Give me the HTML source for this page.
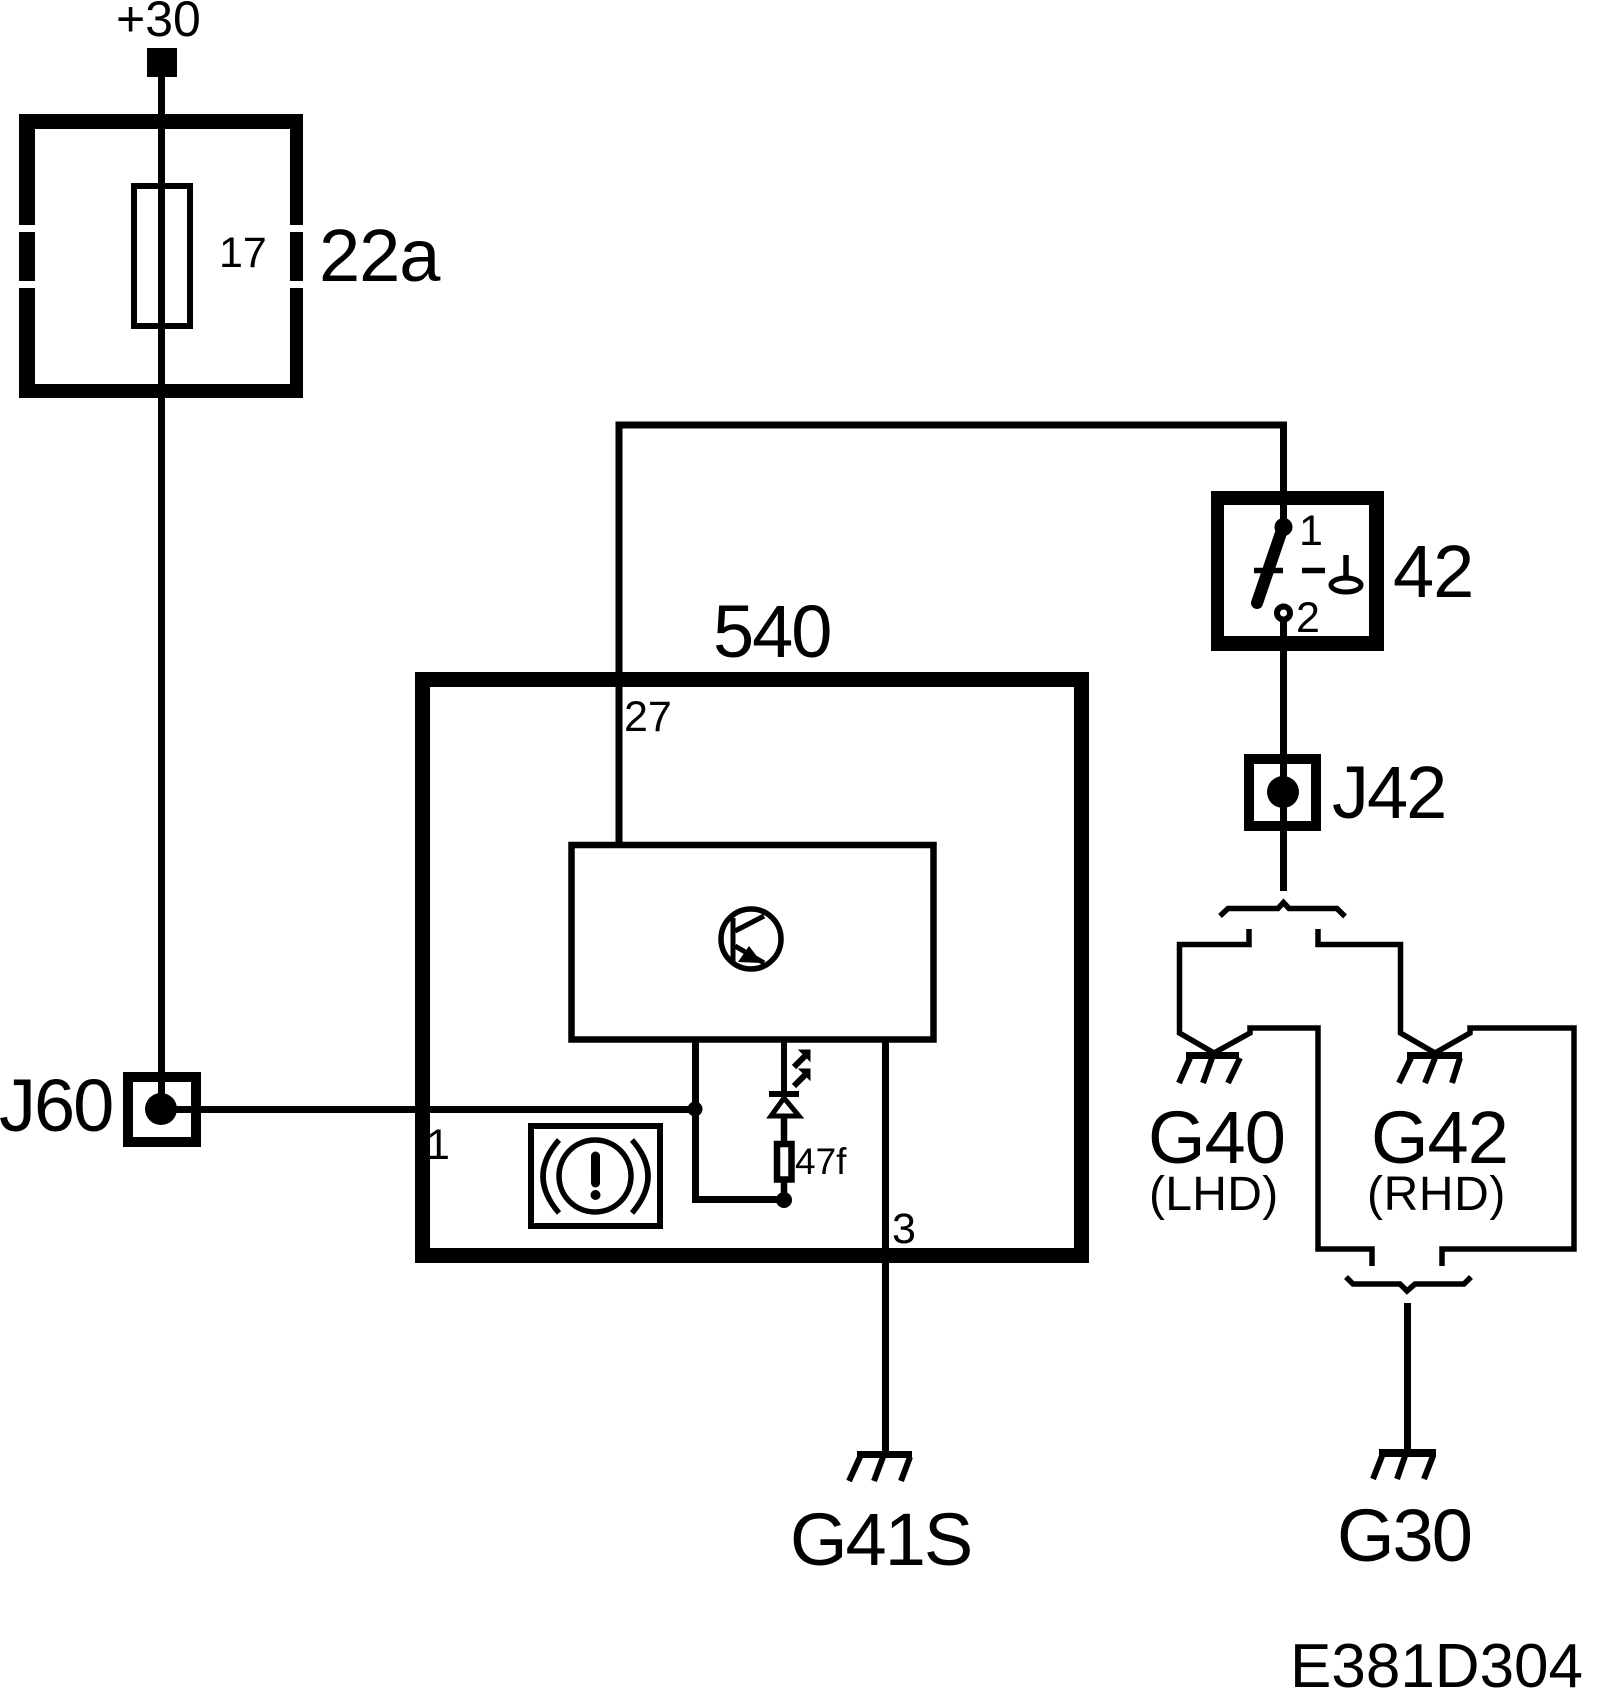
<!DOCTYPE html>
<html>
<head>
<meta charset="utf-8">
<style>
html,body{margin:0;padding:0;background:#fff;}
svg{display:block;}
text{font-family:"Liberation Sans",sans-serif;fill:#000;}
.l{fill:none;stroke:#000;stroke-width:7;}
.m{fill:none;stroke:#000;stroke-width:5.5;stroke-linejoin:miter;}
.t{font-size:43px;}
.b{font-size:74px;letter-spacing:-2px;}
</style>
</head>
<body>
<svg width="1600" height="1702" viewBox="0 0 1600 1702" xmlns="http://www.w3.org/2000/svg">
<rect width="1600" height="1702" fill="#fff"/>

<!-- +30 and fuse box -->
<text x="116" y="36" font-size="50">+30</text>
<rect x="147" y="48" width="30" height="29" fill="#000"/>
<path d="M19 114H303V398H19Z M35 129V384H290V129Z" fill="#000" fill-rule="evenodd"/>
<rect x="17" y="225" width="20" height="7" fill="#fff"/>
<rect x="17" y="281" width="20" height="7" fill="#fff"/>
<rect x="288" y="225" width="17" height="7" fill="#fff"/>
<rect x="288" y="281" width="17" height="7" fill="#fff"/>
<rect x="134" y="186" width="56" height="140" fill="none" stroke="#000" stroke-width="6"/>
<line class="l" x1="161.5" y1="70" x2="161.5" y2="1109"/>
<text class="t" x="219" y="267">17</text>
<text class="b" x="319" y="281" style="letter-spacing:-1px">22a</text>

<!-- J60 -->
<rect x="128" y="1077" width="68" height="65" fill="none" stroke="#000" stroke-width="10"/>
<circle cx="161" cy="1109" r="16" fill="#000"/>
<text class="b" x="-1" y="1131">J60</text>
<line class="l" x1="161" y1="1109.5" x2="695" y2="1109.5"/>

<!-- 540 box -->
<rect x="422.5" y="679.5" width="659" height="576" fill="none" stroke="#000" stroke-width="15"/>
<text class="b" x="713" y="657">540</text>
<text class="t" x="426" y="1159">1</text>
<text class="t" x="624" y="731">27</text>
<text class="t" x="892" y="1243">3</text>

<!-- top wire -->
<path class="l" d="M619 845V425H1283.5V527"/>

<!-- inner rect -->
<rect x="571.5" y="845" width="362" height="194.5" fill="none" stroke="#000" stroke-width="6.5"/>

<!-- transistor -->
<circle cx="751" cy="939" r="30" fill="none" stroke="#000" stroke-width="5.5"/>
<line x1="733" y1="918" x2="733" y2="962" stroke="#000" stroke-width="5"/>
<line x1="735" y1="931" x2="764" y2="916" stroke="#000" stroke-width="5"/>
<line x1="735" y1="946" x2="764" y2="963" stroke="#000" stroke-width="5"/>
<path d="M749 946L738 962L762 963Z" fill="#000"/>

<!-- internal wiring -->
<path class="l" d="M695.5 1040V1199.5H784"/>
<circle cx="695" cy="1109" r="7.5" fill="#000"/>
<circle cx="784" cy="1200" r="8" fill="#000"/>
<line x1="784" y1="1040" x2="784" y2="1093" stroke="#000" stroke-width="6"/>
<line x1="769" y1="1094" x2="799" y2="1094" stroke="#000" stroke-width="6"/>
<path d="M784 1098L771 1116H799Z" fill="none" stroke="#000" stroke-width="5"/>
<line x1="784" y1="1116" x2="784" y2="1142" stroke="#000" stroke-width="6.5"/>
<rect x="777" y="1144" width="14.5" height="35.5" fill="none" stroke="#000" stroke-width="6.5"/>
<line x1="784" y1="1181" x2="784" y2="1200" stroke="#000" stroke-width="6.5"/>
<path d="M794 1067L806 1055" stroke="#000" stroke-width="6" fill="none"/>
<path d="M799 1050H810V1061Z" fill="#000" stroke="#000" stroke-width="1"/>
<path d="M794 1086L806 1074" stroke="#000" stroke-width="6" fill="none"/>
<path d="M799 1069H810V1080Z" fill="#000" stroke="#000" stroke-width="1"/>
<text x="795" y="1174" font-size="37">47f</text>

<!-- brake warning icon -->
<rect x="531" y="1126" width="129" height="100" fill="none" stroke="#000" stroke-width="6"/>
<circle cx="595" cy="1176" r="36" fill="none" stroke="#000" stroke-width="5.5"/>
<path d="M559 1140Q527 1176 559 1213" fill="none" stroke="#000" stroke-width="5.5"/>
<path d="M632 1140Q664 1176 632 1213" fill="none" stroke="#000" stroke-width="5.5"/>
<line x1="595.5" y1="1156" x2="595.5" y2="1183" stroke="#000" stroke-width="9" stroke-linecap="round"/>
<circle cx="595.5" cy="1195" r="5" fill="#000"/>

<!-- ground G41S -->
<line class="l" x1="885.5" y1="1040" x2="885.5" y2="1452"/>
<rect x="857" y="1451" width="55" height="7" fill="#000"/>
<path d="M860 1457L849 1481M883 1457L874 1481M910 1457L901 1481" stroke="#000" stroke-width="6" fill="none"/>
<text class="b" x="790" y="1565">G41S</text>

<!-- switch 42 -->
<path d="M1211 491H1384V651H1211Z M1224 505V636H1369V505Z" fill="#000" fill-rule="evenodd"/>
<circle cx="1283.5" cy="527" r="9" fill="#000"/>
<line x1="1283" y1="527" x2="1257" y2="603" stroke="#000" stroke-width="12" stroke-linecap="round"/>
<line x1="1254" y1="570.5" x2="1283" y2="570.5" stroke="#000" stroke-width="5.5"/>
<line x1="1302" y1="570.5" x2="1325" y2="570.5" stroke="#000" stroke-width="5.5"/>
<line x1="1346" y1="555" x2="1346" y2="578" stroke="#000" stroke-width="5.5"/>
<ellipse cx="1346" cy="585" rx="15" ry="7" fill="none" stroke="#000" stroke-width="5"/>
<circle cx="1283.5" cy="613" r="6.500" fill="#fff" stroke="#000" stroke-width="6"/>
<text class="t" x="1299" y="545">1</text>
<text class="t" x="1296" y="632">2</text>
<text class="b" x="1393" y="597" style="letter-spacing:-1px">42</text>

<!-- J42 -->
<line class="l" x1="1283.5" y1="620" x2="1283.5" y2="891"/>
<rect x="1249" y="759" width="67" height="67" fill="none" stroke="#000" stroke-width="10"/>
<circle cx="1283" cy="792" r="16" fill="#000"/>
<text class="b" x="1332" y="818">J42</text>

<!-- top brace -->
<path class="m" d="M1220 916L1228 908.500H1278L1283.500 902.500L1289 908.500H1337L1345 916.500"/>

<!-- branch wires -->
<path class="m" d="M1249 929V944.500H1179.500V1033L1214 1053L1250 1033V1028H1318V1249H1372V1266"/>
<path class="m" d="M1318 929V944.500H1400.500V1033L1435 1053L1470 1033V1028H1574V1249H1442V1266"/>

<!-- G40 ground -->
<rect x="1186" y="1052" width="53" height="7" fill="#000"/>
<path d="M1190 1058L1179 1083M1212 1058L1203 1083M1240 1058L1228 1083" stroke="#000" stroke-width="6" fill="none"/>
<text class="b" x="1148" y="1163" style="letter-spacing:-1px">G40</text>
<text x="1149" y="1210" font-size="48" style="letter-spacing:.3px">(LHD)</text>

<!-- G42 ground -->
<rect x="1407" y="1052" width="55" height="7" fill="#000"/>
<path d="M1411 1058L1399 1083M1435 1058L1425 1083M1460 1058L1452 1083" stroke="#000" stroke-width="6" fill="none"/>
<text class="b" x="1371" y="1163" style="letter-spacing:-1px">G42</text>
<text x="1367" y="1210" font-size="48" style="letter-spacing:.6px">(RHD)</text>

<!-- bottom brace -->
<path class="m" d="M1346 1277L1353 1284H1400L1407 1291L1415 1284H1464L1471 1277"/>

<!-- G30 -->
<line class="l" x1="1407.500" y1="1303" x2="1407.500" y2="1450"/>
<rect x="1379" y="1449" width="57" height="8" fill="#000"/>
<path d="M1382 1456L1373 1479M1405 1456L1397 1479M1433 1456L1424 1479" stroke="#000" stroke-width="6" fill="none"/>
<text class="b" x="1337" y="1561">G30</text>

<text x="1290" y="1687" font-size="62">E381D304</text>
</svg>
</body>
</html>
